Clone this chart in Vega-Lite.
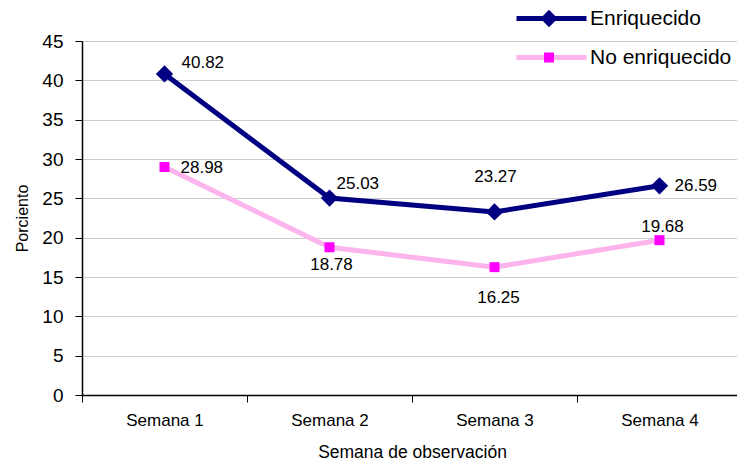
{
  "$schema": "https://vega.github.io/schema/vega-lite/v6.json",
  "width": 660,
  "height": 354,
  "autosize": {"type": "none"},
  "padding": {"left": 82, "top": 41, "right": 0, "bottom": 71},
  "background": "white",
  "config": {"view": {"stroke": null}, "font": "Liberation Sans"},
  "data": {
    "values": [
      {"semana": "Semana 1", "serie": "Enriquecido", "valor": 40.82},
      {"semana": "Semana 2", "serie": "Enriquecido", "valor": 25.03},
      {"semana": "Semana 3", "serie": "Enriquecido", "valor": 23.27},
      {"semana": "Semana 4", "serie": "Enriquecido", "valor": 26.59},
      {"semana": "Semana 1", "serie": "No enriquecido", "valor": 28.98},
      {"semana": "Semana 2", "serie": "No enriquecido", "valor": 18.78},
      {"semana": "Semana 3", "serie": "No enriquecido", "valor": 16.25},
      {"semana": "Semana 4", "serie": "No enriquecido", "valor": 19.68}
    ]
  },
  "encoding": {
    "x": {
      "field": "semana",
      "type": "nominal",
      "scale": {"type": "band", "paddingInner": 0, "paddingOuter": 0},
      "axis": {
        "title": "Semana de observación",
        "labelAngle": 0,
        "labelFont": "Liberation Sans Narrow, Liberation Sans",
        "labelFontSize": 17,
        "labelColor": "black",
        "labelPadding": 10,
        "titleFont": "Liberation Sans Narrow, Liberation Sans",
        "titleFontSize": 17.5,
        "titleFontWeight": "normal",
        "titleColor": "black",
        "titlePadding": 15,
        "tickBand": "extent",
        "tickSize": 7,
        "tickColor": "black",
        "domainColor": "black",
        "domainWidth": 1.5,
        "grid": false
      }
    },
    "y": {
      "field": "valor",
      "type": "quantitative",
      "scale": {"domain": [0, 45], "nice": false},
      "axis": {
        "title": "Porciento",
        "values": [0, 5, 10, 15, 20, 25, 30, 35, 40, 45],
        "labelFontSize": 19,
        "labelColor": "black",
        "labelPadding": 12,
        "tickSize": 7,
        "tickColor": "black",
        "domainColor": "black",
        "domainWidth": 1.5,
        "titleFontSize": 16,
        "titleFontWeight": "normal",
        "titleColor": "black",
        "titlePadding": 11,
        "grid": true,
        "gridColor": "#9a9a9a",
        "gridDash": [1, 1],
        "gridWidth": 1
      }
    }
  },
  "layer": [
    {
      "mark": {"type": "line", "strokeWidth": 5},
      "encoding": {
        "stroke": {
          "field": "serie",
          "type": "nominal",
          "scale": {"domain": ["Enriquecido", "No enriquecido"], "range": ["#000080", "#FBB4EC"]},
          "legend": {
            "orient": "none",
            "legendX": 432,
            "legendY": -42,
            "title": null,
            "padding": 0,
            "symbolType": "stroke",
            "symbolSize": 4900,
            "symbolStrokeWidth": 5,
            "clipHeight": 39,
            "rowPadding": 0,
            "labelFontSize": 21,
            "labelColor": "black",
            "labelOffset": 1,
            "labelLimit": 300
          }
        }
      }
    },
    {
      "transform": [{"calculate": "datum.serie", "as": "marcador"}],
      "mark": {"type": "point", "filled": true, "opacity": 1, "strokeWidth": 0},
      "encoding": {
        "fill": {
          "field": "marcador",
          "type": "nominal",
          "scale": {"range": ["#000080", "#FF00FF"]},
          "legend": {
            "orient": "none",
            "legendX": 432,
            "legendY": -42,
            "title": null,
            "padding": 0,
            "symbolOffset": 26,
            "clipHeight": 39,
            "rowPadding": 0,
            "labelFontSize": 1,
            "labelLimit": 2,
            "labelColor": "transparent",
            "symbolStrokeWidth": 0
          }
        },
        "shape": {
          "field": "marcador",
          "type": "nominal",
          "scale": {"range": ["diamond", "square"]}
        },
        "size": {
          "field": "marcador",
          "type": "ordinal",
          "scale": {"range": [300, 100]}
        }
      }
    },
    {
      "transform": [{"filter": "datum.valor == 40.82"}],
      "mark": {"type": "text", "align": "left", "baseline": "middle", "dx": 17, "dy": -11, "fontSize": 17, "color": "black"},
      "encoding": {"text": {"field": "valor", "type": "quantitative", "format": ".2f"}}
    },
    {
      "transform": [{"filter": "datum.valor == 28.98"}],
      "mark": {"type": "text", "align": "left", "baseline": "middle", "dx": 16, "dy": 1, "fontSize": 17, "color": "black"},
      "encoding": {"text": {"field": "valor", "type": "quantitative", "format": ".2f"}}
    },
    {
      "transform": [{"filter": "datum.valor == 25.03"}],
      "mark": {"type": "text", "align": "left", "baseline": "middle", "dx": 7, "dy": -14, "fontSize": 17, "color": "black"},
      "encoding": {"text": {"field": "valor", "type": "quantitative", "format": ".2f"}}
    },
    {
      "transform": [{"filter": "datum.valor == 26.59"}],
      "mark": {"type": "text", "align": "left", "baseline": "middle", "dx": 15, "dy": 0, "fontSize": 17, "color": "black"},
      "encoding": {"text": {"field": "valor", "type": "quantitative", "format": ".2f"}}
    },
    {
      "transform": [{"filter": "datum.valor == 23.27"}],
      "mark": {"type": "text", "align": "center", "baseline": "middle", "dx": 1, "dy": -35, "fontSize": 17, "color": "black"},
      "encoding": {"text": {"field": "valor", "type": "quantitative", "format": ".2f"}}
    },
    {
      "transform": [{"filter": "datum.valor == 19.68"}],
      "mark": {"type": "text", "align": "center", "baseline": "middle", "dx": 3, "dy": -13, "fontSize": 17, "color": "black"},
      "encoding": {"text": {"field": "valor", "type": "quantitative", "format": ".2f"}}
    },
    {
      "transform": [{"filter": "datum.valor == 18.78"}],
      "mark": {"type": "text", "align": "center", "baseline": "middle", "dx": 2, "dy": 18, "fontSize": 17, "color": "black"},
      "encoding": {"text": {"field": "valor", "type": "quantitative", "format": ".2f"}}
    },
    {
      "transform": [{"filter": "datum.valor == 16.25"}],
      "mark": {"type": "text", "align": "center", "baseline": "middle", "dx": 4, "dy": 31, "fontSize": 17, "color": "black"},
      "encoding": {"text": {"field": "valor", "type": "quantitative", "format": ".2f"}}
    }
  ]
}
